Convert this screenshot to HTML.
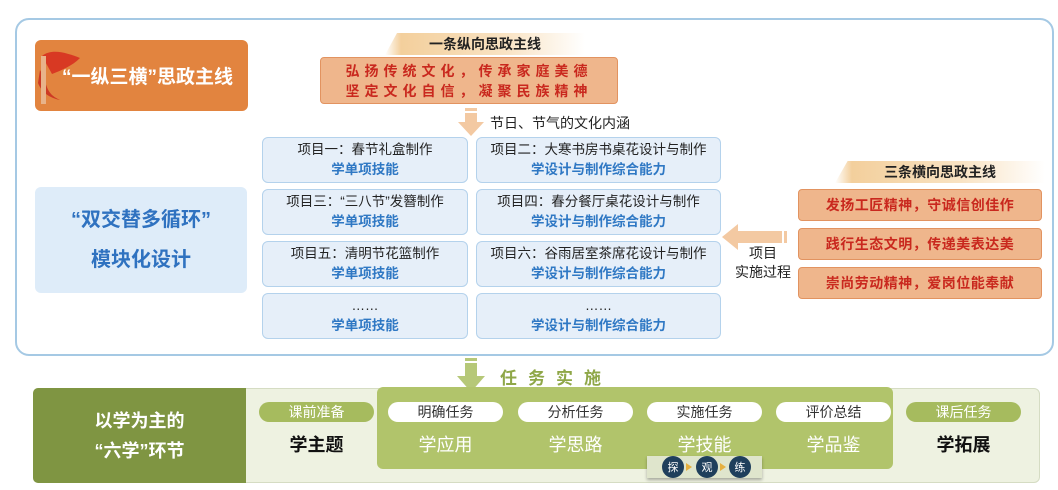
<!DOCTYPE html>
<html><head><meta charset="utf-8">
<style>
*{margin:0;padding:0;box-sizing:border-box}
body{width:1058px;height:490px;background:#fff;font-family:"Liberation Sans","Noto Sans CJK SC",sans-serif;position:relative;overflow:hidden}
.a{position:absolute}
.c{display:flex;align-items:center;justify-content:center;text-align:center}
.card{position:absolute;background:#e6eff9;border:1.5px solid #b4d2ec;border-radius:6px;display:flex;flex-direction:column;align-items:center;justify-content:center;font-size:13.5px;color:#222;line-height:20px}
.card b{color:#2f78c4;font-weight:bold}
.rb{position:absolute;left:798px;width:244px;height:32px;background:#efb68c;border:1.5px solid #e29360;border-radius:4px;color:#c9281e;font-size:14px;font-weight:bold;display:flex;align-items:center;justify-content:center;letter-spacing:0.5px}
.pill{position:absolute;top:402px;width:115px;height:20px;border-radius:10px;font-size:14px;display:flex;align-items:center;justify-content:center}
.pw{background:#fff;color:#333}
.pg{background:#a6bb5e;color:#fff}
.big{position:absolute;top:431px;width:115px;text-align:center;font-size:18px;font-weight:bold}
.tab{position:absolute;height:22px;font-size:14px;font-weight:bold;color:#222;display:flex;align-items:center;justify-content:center;background:linear-gradient(90deg,rgba(240,200,150,0.0) 0%,#f3cf9c 8%,#f9e3c3 60%,rgba(255,255,255,0) 100%);clip-path:polygon(6% 0,100% 0,100% 100%,0 100%)}
</style></head><body>

<div class="a" style="left:15px;top:18px;width:1039px;height:338px;border:2px solid #a5c9e4;border-radius:14px"></div>

<div class="a c" style="left:35px;top:40px;width:213px;height:71px;background:#e2843f;border-radius:6px;color:#fff;font-size:19px;font-weight:bold;padding-left:12px">“一纵三横”思政主线</div>
<svg class="a" style="left:32px;top:48px" width="60" height="60"><path d="M10 8 C20 0 35 5 48 10 C40 18 30 22 20 26 Z" fill="#d62b1e" opacity="0.85"/><path d="M8 22 C16 35 12 45 28 52 C18 50 10 45 6 35Z" fill="#c8281e" opacity="0.8"/><rect x="9" y="8" width="5" height="48" fill="#e8b38a"/></svg>

<div class="tab" style="left:385px;top:33px;width:200px">一条纵向思政主线</div>
<div class="a c" style="left:320px;top:57px;width:298px;height:47px;background:#efb68c;border:1.5px solid #e29360;border-radius:4px;color:#c9281e;font-size:14px;font-weight:bold;letter-spacing:5px;line-height:20px">弘扬传统文化，传承家庭美德<br>坚定文化自信，凝聚民族精神</div>

<svg class="a" style="left:458px;top:108px" width="26" height="28"><rect x="7" y="0" width="12" height="3" fill="#f3c9a2"/><rect x="7" y="5" width="12" height="10" fill="#f3c9a2"/><polygon points="0,14 26,14 13,28" fill="#f3c9a2"/></svg>
<div class="a" style="left:490px;top:113px;font-size:14px;color:#222">节日、节气的文化内涵</div>

<div class="card" style="left:262px;top:137px;width:206px;height:46px">项目一：春节礼盒制作<b>学单项技能</b></div>
<div class="card" style="left:476px;top:137px;width:245px;height:46px">项目二：大寒书房书桌花设计与制作<b>学设计与制作综合能力</b></div>
<div class="card" style="left:262px;top:189px;width:206px;height:46px">项目三：“三八节”发簪制作<b>学单项技能</b></div>
<div class="card" style="left:476px;top:189px;width:245px;height:46px">项目四：春分餐厅桌花设计与制作<b>学设计与制作综合能力</b></div>
<div class="card" style="left:262px;top:241px;width:206px;height:46px">项目五：清明节花篮制作<b>学单项技能</b></div>
<div class="card" style="left:476px;top:241px;width:245px;height:46px">项目六：谷雨居室茶席花设计与制作<b>学设计与制作综合能力</b></div>
<div class="card" style="left:262px;top:293px;width:206px;height:46px">……<b>学单项技能</b></div>
<div class="card" style="left:476px;top:293px;width:245px;height:46px">……<b>学设计与制作综合能力</b></div>

<div class="a c" style="left:35px;top:187px;width:212px;height:106px;background:#deecf9;border-radius:6px;color:#2f72c0;font-size:20px;font-weight:bold;line-height:40px">“双交替多循环”<br>模块化设计</div>

<div class="tab" style="left:835px;top:161px;width:210px">三条横向思政主线</div>
<div class="rb" style="top:189px">发扬工匠精神，守诚信创佳作</div>
<div class="rb" style="top:228px">践行生态文明，传递美表达美</div>
<div class="rb" style="top:267px">崇尚劳动精神，爱岗位能奉献</div>

<svg class="a" style="left:722px;top:224px" width="70" height="26"><polygon points="0,13 16,0 16,7 60,7 60,19 16,19 16,26" fill="#f3c9a2"/><rect x="62" y="7" width="3" height="12" fill="#f3c9a2"/></svg>
<div class="a" style="left:728px;top:244px;width:70px;text-align:center;font-size:14px;color:#222;line-height:19px">项目<br>实施过程</div>

<svg class="a" style="left:457px;top:358px" width="28" height="34"><rect x="8" y="0" width="12" height="3" fill="#b6c878"/><rect x="8" y="5" width="12" height="14" fill="#b6c878"/><polygon points="0,18 28,18 14,34" fill="#b6c878"/></svg>
<div class="a" style="left:500px;top:364px;font-size:17px;font-weight:bold;color:#8fa748;letter-spacing:11px">任务实施</div>

<div class="a" style="left:33px;top:388px;width:1007px;height:95px;background:#eef2e1;border:1px solid #d5dcc3;border-radius:6px"></div>
<div class="a c" style="left:33px;top:388px;width:213px;height:95px;background:#7f9542;border-radius:5px 0 0 5px;color:#fff;font-size:18px;font-weight:bold;line-height:30px">以学为主的<br>“六学”环节</div>
<div class="a" style="left:377px;top:387px;width:516px;height:82px;background:#b1c46b;border-radius:6px"></div>

<div class="pill pg" style="left:259px">课前准备</div>
<div class="pill pw" style="left:388px">明确任务</div>
<div class="pill pw" style="left:518px">分析任务</div>
<div class="pill pw" style="left:647px">实施任务</div>
<div class="pill pw" style="left:776px">评价总结</div>
<div class="pill pg" style="left:906px">课后任务</div>

<div class="big" style="left:259px;color:#111">学主题</div>
<div class="big" style="left:388px;color:#fff;font-weight:normal">学应用</div>
<div class="big" style="left:518px;color:#fff;font-weight:normal">学思路</div>
<div class="big" style="left:647px;color:#fff;font-weight:normal">学技能</div>
<div class="big" style="left:776px;color:#fff;font-weight:normal">学品鉴</div>
<div class="big" style="left:906px;color:#111">学拓展</div>

<div class="a" style="left:647px;top:456px;width:115px;height:22px;background:#dfe5cc;box-shadow:0 2px 3px rgba(0,0,0,0.3)"></div>
<div class="a c" style="left:662px;top:456px;width:22px;height:22px;border-radius:11px;background:#1f3f5c;color:#fff;font-size:11px">探</div>
<div class="a c" style="left:696px;top:456px;width:22px;height:22px;border-radius:11px;background:#1f3f5c;color:#fff;font-size:11px">观</div>
<div class="a c" style="left:729px;top:456px;width:22px;height:22px;border-radius:11px;background:#1f3f5c;color:#fff;font-size:11px">练</div>
<div class="a" style="left:686px;top:463px;width:0;height:0;border-left:6px solid #e5b040;border-top:4px solid transparent;border-bottom:4px solid transparent"></div>
<div class="a" style="left:720px;top:463px;width:0;height:0;border-left:6px solid #e5b040;border-top:4px solid transparent;border-bottom:4px solid transparent"></div>
</body></html>
